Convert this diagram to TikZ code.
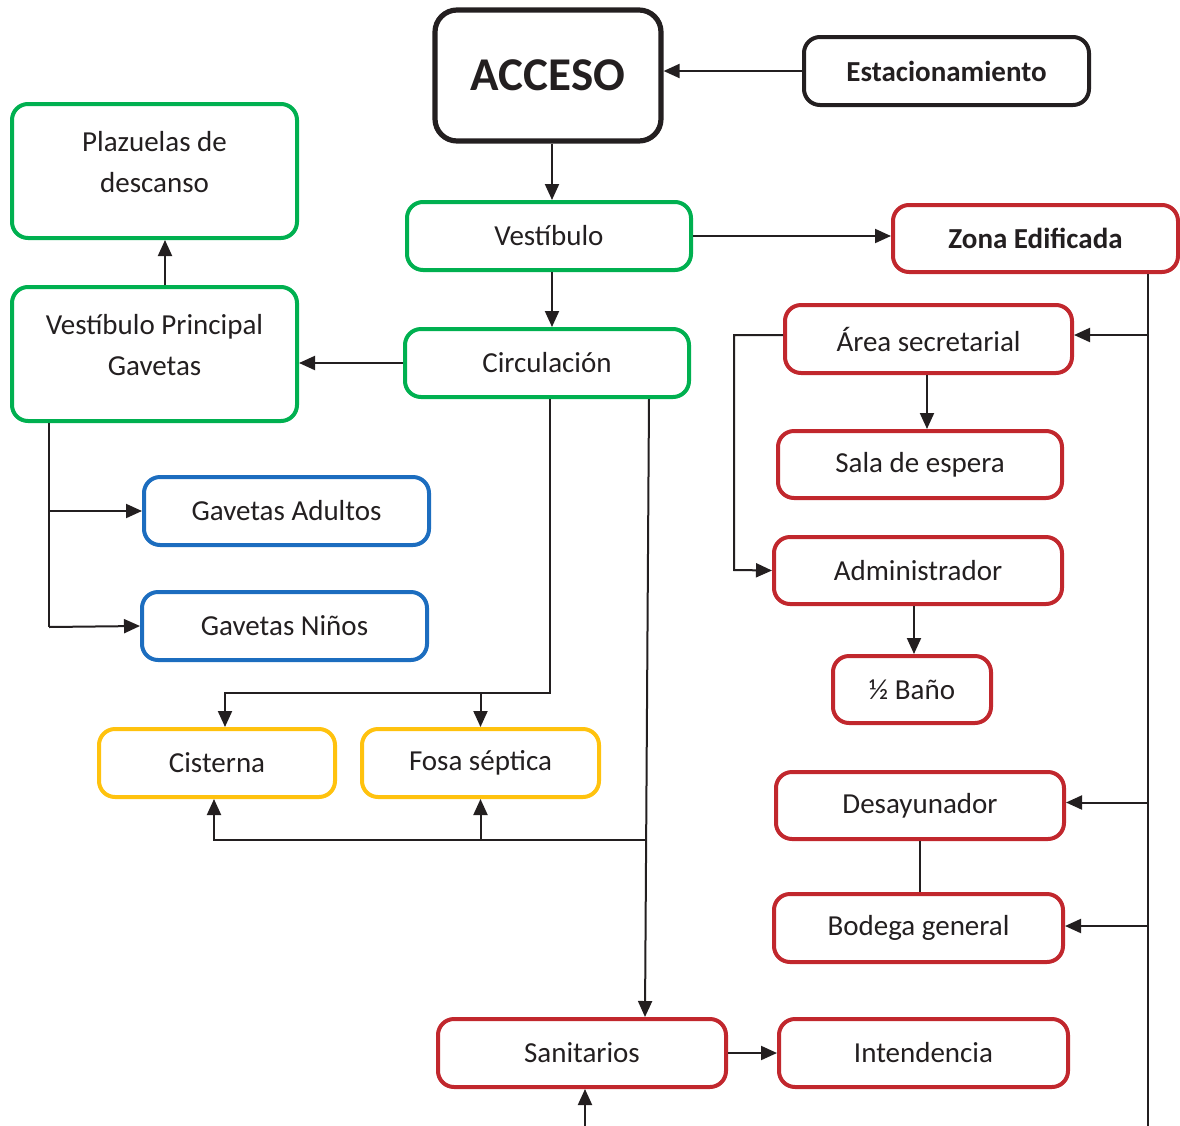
\documentclass[tikz,border=0pt]{standalone}
\usepackage{fontspec}
\setmainfont{Carlito}
\usetikzlibrary{arrows.meta}
\definecolor{ink}{HTML}{231F20}
\definecolor{cgreen}{HTML}{00B050}
\definecolor{cblue}{HTML}{1C6DBF}
\definecolor{cyellow}{HTML}{FFC20E}
\definecolor{cred}{HTML}{C1272D}
\tikzset{
  box/.style={draw, rounded corners=8pt, line width=2pt, align=center, text=ink,
    font=\fontsize{14.5}{20.5}\selectfont, inner sep=0pt, minimum height=34pt},
  gbox/.style={box, draw=cgreen},
  bbox/.style={box, draw=cblue},
  ybox/.style={box, draw=cyellow},
  rbox/.style={box, draw=cred},
  kbox/.style={box, draw=ink},
  conn/.style={draw=ink, line width=1pt},
  arr/.style={conn, -{Triangle[length=8pt,width=7pt]}}
}
\begin{document}
\begin{tikzpicture}[x=0.5pt,y=-0.5pt]
\useasboundingbox (0,0) rectangle (1180,1126);
% nodes
\node[kbox, line width=2.6pt, rounded corners=11pt, minimum width=113pt, minimum height=65.5pt,
  font=\bfseries\fontsize{23.5}{28}\selectfont] (acceso) at (548,75.5) {ACCESO};
\node[kbox, minimum width=142.5pt, font=\bfseries\fontsize{14.5}{20.5}\selectfont] (estac) at (946.5,71) {Estacionamiento};
\node[gbox, minimum width=142pt] (vest) at (549,236) {Vestíbulo};
\node[rbox, minimum width=142.5pt, minimum height=33.5pt, font=\bfseries\fontsize{14.5}{20.5}\selectfont] (zona) at (1035.5,238.5) {Zona Edificada};
\node[gbox, minimum width=142pt] (circ) at (547,363) {Circulación};
\node[gbox, minimum width=142.5pt, minimum height=67pt] (vp) at (154.5,354) {Vestíbulo Principal\\Gavetas\\[-11.5pt]\mbox{}};
\node[gbox, minimum width=142.5pt, minimum height=67pt] (plaz) at (154.5,171) {Plazuelas de\\descanso\\[-11.5pt]\mbox{}};
\node[bbox, minimum width=142.5pt] (ga) at (286.5,511) {Gavetas Adultos};
\node[bbox, minimum width=142.5pt] (gn) at (284.5,626) {Gavetas Niños};
\node[ybox, minimum width=118pt] (cist) at (217,763) {Cisterna};
\node[ybox, minimum width=118.5pt] (fosa) at (480.5,763) {Fosa séptica};
\node[rbox, minimum width=144pt] (san) at (582,1053) {Sanitarios};
\node[rbox, minimum width=144.5pt] (inten) at (923.5,1053) {Intendencia};
\node[rbox, minimum width=143.5pt] (area) at (928.5,339) {Área secretarial};
\node[rbox, minimum width=142pt, minimum height=33.5pt] (sala) at (920,464.5) {Sala de espera};
\node[rbox, minimum width=144pt, minimum height=33.5pt] (admin) at (918,570.5) {Administrador};
\node[rbox, minimum width=79pt, minimum height=33.5pt] (bano) at (912,689.5) {½ Baño};
\node[rbox, minimum width=144pt, minimum height=33.5pt] (desay) at (920,805.5) {Desayunador};
\node[rbox, minimum width=144.5pt] (bod) at (918.5,928) {Bodega general};
% coordinates
\coordinate (vpb) at (49,627);
\coordinate (j1) at (550,693);
\coordinate (j2) at (646,840);
\coordinate (sb) at (585,1126);
\coordinate (zb) at (1148,1126);
\coordinate (al) at (734,570);
\coordinate (vpt) at (165,287);
% connectors
\draw[arr] (estac.west) -- (estac.west -| acceso.east);
\draw[arr] ([xshift=2pt]acceso.south) -- ([xshift=2pt]acceso.south |- vest.north);
\draw[arr] (vest.east) -- (vest.east -| zona.west);
\draw[arr] ([xshift=1.5pt]vest.south) -- ([xshift=1.5pt]vest.south |- circ.north);
\draw[arr] (circ.west) -- (circ.west -| vp.east);
\draw[arr] (vp.north -| vpt) -- (plaz.south -| vpt);
\draw[conn] (vp.south -| vpb) -- (vpb);
\draw[arr] (vp.south -| vpb) |- (ga.west);
\draw[arr] (vpb) -- (gn.west);
\draw[arr] ([xshift=1.5pt]circ.south) -- ([xshift=1.5pt]circ.south |- j1) -| ([xshift=4pt]cist.north);
\draw[arr] (fosa.north |- j1) -- (fosa.north);
\draw[arr] ([xshift=51pt]circ.south) -- ([xshift=31.5pt]san.north);
\draw[arr] (j2) -| ([xshift=-1.5pt]cist.south);
\draw[arr] (fosa.south |- j2) -- (fosa.south);
\draw[arr] (san.east) -- (inten.west);
\draw[arr] (sb) -- (sb |- san.south);
\draw[conn] (zona.south -| zb) -- (zb);
\draw[arr] ([yshift=2pt]area.east -| zb) -- ([yshift=2pt]area.east);
\draw[arr] ([yshift=1.5pt]desay.east -| zb) -- ([yshift=1.5pt]desay.east);
\draw[arr] ([yshift=1pt]bod.east -| zb) -- ([yshift=1pt]bod.east);
\draw[arr] ([xshift=-0.75pt]area.south) -- ([xshift=-0.75pt]area.south |- sala.north);
\draw[arr] ([yshift=2pt]area.west) -| (al) -- (admin.west);
\draw[arr] ([xshift=1pt]bano.north |- admin.south) -- ([xshift=1pt]bano.north);
\draw[conn] (desay.south) -- (desay.south |- bod.north);
\end{tikzpicture}
\end{document}
